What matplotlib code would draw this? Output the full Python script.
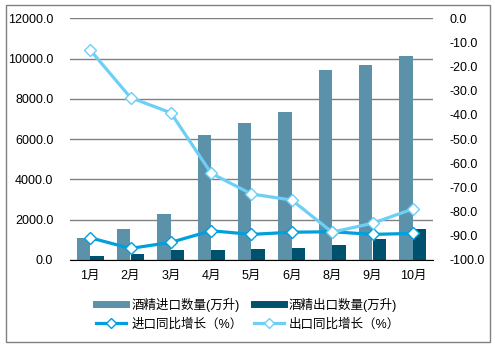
import matplotlib
matplotlib.use("Agg")
import matplotlib.pyplot as plt
import numpy as np
from matplotlib.lines import Line2D
from matplotlib.patches import Rectangle

plt.rcParams['font.family'] = ['Liberation Sans', 'Noto Sans CJK SC', 'DejaVu Sans']

months = ["1月", "2月", "3月", "4月", "5月", "6月", "8月", "9月", "10月"]
import_qty = [1100, 1550, 2300, 6200, 6800, 7350, 9450, 9700, 10150]
export_qty = [200, 300, 500, 500, 560, 600, 750, 1040, 1540]
import_yoy = [-90.8, -95.2, -92.7, -87.9, -89.4, -88.5, -88.3, -89.4, -89.0]
export_yoy = [-13.1, -32.8, -39.1, -64.1, -72.7, -75.2, -88.5, -84.8, -78.9]

c_imp_bar = "#5B91A9"
c_exp_bar = "#00516E"
c_imp_line = "#00A0DC"
c_exp_line = "#6DCFF6"

W, H = 495, 348
fig = plt.figure(figsize=(W / 100, H / 100), dpi=100)
ax = fig.add_axes([70 / W, 1 - 260 / H, (433 - 70) / W, (260 - 18.3) / H])

x = np.arange(len(months))
bw = 0.335
ax.bar(x - bw / 2, import_qty, bw, color=c_imp_bar, zorder=2)
ax.bar(x + bw / 2, export_qty, bw, color=c_exp_bar, zorder=2)
ax.set_xlim(-0.5, len(months) - 0.5)
ax.set_ylim(0, 12000)
ax.set_yticks(np.arange(0, 12001, 2000))
ax.set_yticklabels([f"{v:.1f}" for v in np.arange(0, 12001, 2000)])
ax.yaxis.grid(True, color="#808080", linewidth=1)
ax.set_axisbelow(True)
ax.set_xticks(x)
ax.set_xticklabels(months)
for s in ["top", "right", "left"]:
    ax.spines[s].set_visible(False)
ax.spines["bottom"].set_color("#000000")
ax.tick_params(axis="both", length=0, labelsize=9, colors="#000000")
ax.tick_params(axis="x", pad=7)
ax.tick_params(axis="y", pad=12)

ax2 = ax.twinx()
ax2.plot(x, import_yoy, color=c_imp_line, linewidth=2.3, marker="D", markersize=6.5,
         markerfacecolor="white", markeredgecolor=c_imp_line, markeredgewidth=1, zorder=3)
ax2.plot(x, export_yoy, color=c_exp_line, linewidth=2.3, marker="D", markersize=6.5,
         markerfacecolor="white", markeredgecolor=c_exp_line, markeredgewidth=1, zorder=3)
ax2.set_ylim(-100, 0)
ax2.set_yticks(np.arange(-100, 1, 10))
ax2.set_yticklabels([f"{v:.1f}" for v in np.arange(-100, 1, 10)])
for s in ["top", "right", "left", "bottom"]:
    ax2.spines[s].set_visible(False)
ax2.tick_params(axis="y", length=0, labelsize=9, colors="#000000", pad=12)

# outer frame
fig.patches.append(Rectangle((5.5 / W, 1 - 341.5 / H), (490 - 5.5) / W, (341.5 - 4.5) / H,
                             transform=fig.transFigure, fill=False,
                             edgecolor="#808080", linewidth=1))

h1 = Line2D([], [], color=c_imp_bar, linewidth=5)
h2 = Line2D([], [], color=c_exp_bar, linewidth=5)
h3 = Line2D([], [], color=c_imp_line, linewidth=2.3, marker="D", markersize=5.5,
            markerfacecolor="white", markeredgecolor=c_imp_line)
h4 = Line2D([], [], color=c_exp_line, linewidth=2.3, marker="D", markersize=5.5,
            markerfacecolor="white", markeredgecolor=c_exp_line)
# column-major fill: pass entries so rows read bars first, then lines
fig.legend([h1, h3, h2, h4],
           ["酒精进口数量(万升)", "进口同比增长（%）", "酒精出口数量(万升)", "出口同比增长（%）"],
           ncol=2, loc="center", bbox_to_anchor=(248 / W, 1 - 314 / H),
           frameon=False, fontsize=9, handlelength=2.4, columnspacing=0.9,
           handletextpad=0.4, labelspacing=0.5)

fig.savefig("out.png", dpi=100)
